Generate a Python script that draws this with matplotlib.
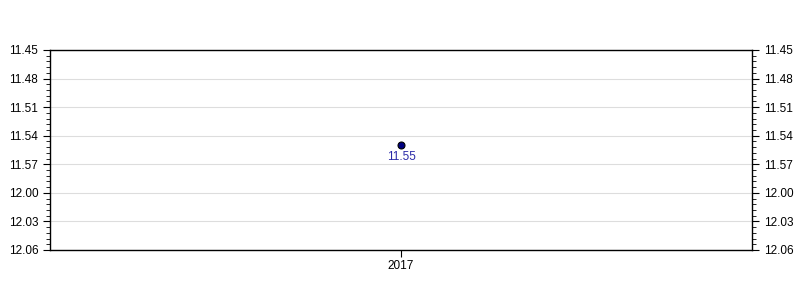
import matplotlib
matplotlib.use("Agg")
import matplotlib.pyplot as plt
from matplotlib.ticker import MultipleLocator, FuncFormatter

plt.rcParams['font.family'] = ['Liberation Sans', 'DejaVu Sans']

years = ["2017"]
times = ["11.55"]          # minutes.seconds
y_min_label = "11.45"
y_max_label = "12.06"

def to_sec(s):
    m, sec = s.split(".")
    return int(m) * 60 + int(sec)

def fmt(v, pos=None):
    v = int(round(v))
    return f"{v // 60}.{v % 60:02d}"

vals = [to_sec(t) for t in times]
xs = list(range(len(years)))

fig = plt.figure(figsize=(8, 3), dpi=100)
ax = fig.add_axes([0.0625, 0.1667, 0.8775, 0.6667])

ax.plot(xs, vals, linestyle='none', marker='o', markersize=5,
        markerfacecolor='#000080', markeredgecolor='#000000', markeredgewidth=0.8, zorder=3)
for x, v, t in zip(xs, vals, times):
    ax.annotate(t, (x, v), xytext=(0, -4), textcoords='offset points',
                ha='center', va='top', fontsize=8.5, color='#2a2aa8')

ax.set_xlim(-0.5, len(years) - 0.5)
ax.set_xticks(xs)
ax.set_xticklabels(years, fontsize=8.5)
ax.set_ylim(to_sec(y_max_label), to_sec(y_min_label))
ax.yaxis.set_major_locator(MultipleLocator(3))
ax.yaxis.set_minor_locator(MultipleLocator(0.6))
ax.yaxis.set_major_formatter(FuncFormatter(fmt))
ax.tick_params(axis='y', which='both', left=True, right=True, labelleft=True, labelright=True,
               labelsize=8.5, direction='out')
ax.tick_params(axis='y', which='major', length=5)
ax.tick_params(axis='y', which='minor', length=3)
ax.tick_params(axis='x', length=5, pad=2.5)
ax.grid(axis='y', which='major', color='#dddddd', linewidth=0.8)
ax.set_axisbelow(True)
for s in ax.spines.values():
    s.set_color('black')
    s.set_linewidth(1)

fig.savefig("out.png", dpi=100)
